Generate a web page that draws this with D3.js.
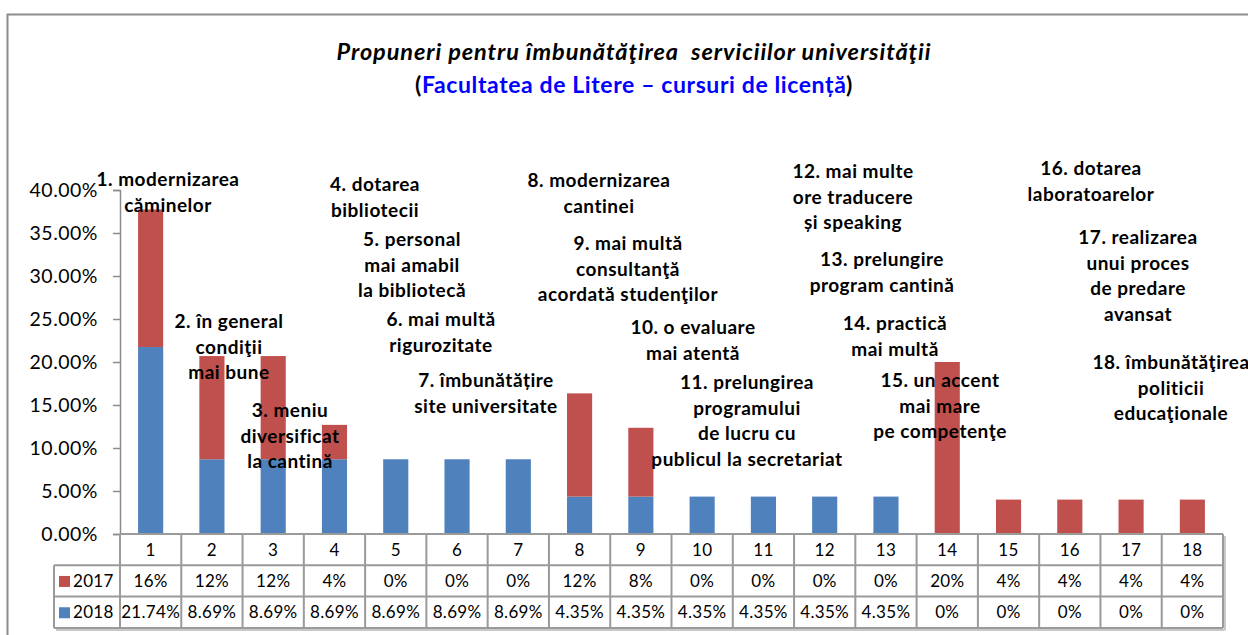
<!DOCTYPE html>
<html>
<head>
<meta charset="utf-8">
<script src="https://cdn.jsdelivr.net/npm/d3@7"></script>
<style>
  body { margin: 0; background: #fff; }
  text { font-family: Lato, "Liberation Sans", sans-serif; }
</style>
</head>
<body>
<div id="chart"></div>
<script>
var widthsvg = 1248;
var heightsvg = 635;

// data
var categories = ["1","2","3","4","5","6","7","8","9","10","11","12","13","14","15","16","17","18"];
var values2017 = [16, 12, 12, 4, 0, 0, 0, 12, 8, 0, 0, 0, 0, 20, 4, 4, 4, 4];
var values2018 = [21.74, 8.69, 8.69, 8.69, 8.69, 8.69, 8.69, 4.35, 4.35, 4.35, 4.35, 4.35, 4.35, 0, 0, 0, 0, 0];
var labels2017 = ["16%","12%","12%","4%","0%","0%","0%","12%","8%","0%","0%","0%","0%","20%","4%","4%","4%","4%"];
var labels2018 = ["21.74%","8.69%","8.69%","8.69%","8.69%","8.69%","8.69%","4.35%","4.35%","4.35%","4.35%","4.35%","4.35%","0%","0%","0%","0%","0%"];
var yTicks = [0, 5, 10, 15, 20, 25, 30, 35, 40];
var seriesNames = ["2017", "2018"];
var notes = [
  ["1. modernizarea", "căminelor"],
  ["2. în general", "condiţii", "mai bune"],
  ["3. meniu", "diversificat", "la cantină"],
  ["4. dotarea", "bibliotecii"],
  ["5. personal", "mai amabil", "la bibliotecă"],
  ["6. mai multă", "rigurozitate"],
  ["7. îmbunătățire", "site universitate"],
  ["8. modernizarea", "cantinei"],
  ["9. mai multă", "consultanţă", "acordată studenţilor"],
  ["10. o evaluare", "mai atentă"],
  ["11. prelungirea", "programului", "de lucru cu", "publicul la secretariat"],
  ["12. mai multe", "ore traducere", "și speaking"],
  ["13. prelungire", "program cantină"],
  ["14. practică", "mai multă"],
  ["15. un accent", "mai mare", "pe competenţe"],
  ["16. dotarea", "laboratoarelor"],
  ["17. realizarea", "unui proces", "de predare", "avansat"],
  ["18. îmbunătăţirea", "politicii", "educaţionale"]
];

// layout of the note blocks (center x, first line middle y)
var notePos = [
  [168, 179], [229, 321], [290, 410], [375, 184], [412, 239], [441, 319],
  [486, 380], [599, 180], [628, 243], [693, 327], [747, 382], [853, 171],
  [882, 259], [895, 323], [940, 380], [1091, 168], [1138, 237], [1171, 362]
];

var colors = {"2017": "#C0504D", "2018": "#4F81BD"};

var plot = {left: 120, right: 1223, top: 190, bottom: 534};
var rowH = 31.3;

var svg = d3.select("#chart")
    .append("svg")
    .attr("width", widthsvg)
    .attr("height", heightsvg);

// chart border
svg.append("rect")
    .attr("x", 7.5).attr("y", 14.5)
    .attr("width", 1260).attr("height", 640)
    .attr("fill", "none")
    .attr("stroke", "#8c8c8c")
    .attr("stroke-width", 2);

// title
svg.append("text")
    .attr("x", 634).attr("y", 60)
    .attr("text-anchor", "middle")
    .attr("xml:space", "preserve")
    .style("font-size", "23.5px")
    .style("letter-spacing", "0.9px")
    .style("font-weight", "bold")
    .style("font-style", "italic")
    .text("Propuneri pentru îmbunătăţirea  serviciilor universităţii");

var sub = svg.append("text")
    .attr("x", 634).attr("y", 93)
    .attr("text-anchor", "middle")
    .style("font-size", "23px")
    .style("letter-spacing", "0.6px")
    .style("font-weight", "bold");
sub.append("tspan").text("(");
sub.append("tspan").attr("fill", "#0000FF").text("Facultatea de Litere – cursuri de licență");
sub.append("tspan").text(")");

var scalex = d3.scaleBand()
    .domain(categories)
    .range([plot.left, plot.right])
    .paddingInner(0.59)
    .paddingOuter(0.295);

var step = scalex.step();

var scaley = d3.scaleLinear()
    .domain([0, 40])
    .range([plot.bottom, plot.top]);

// y axis
var axisleft = d3.axisLeft(scaley)
    .tickValues(yTicks)
    .tickSize(7)
    .tickFormat(d => d.toFixed(2) + "%");

var gy = svg.append("g")
    .attr("transform", `translate(${plot.left}, 0)`)
    .call(axisleft);
gy.select(".domain").attr("stroke", "#8c8c8c").attr("stroke-width", 1.5);
gy.selectAll(".tick line").attr("stroke", "#8c8c8c").attr("stroke-width", 1.5);
gy.selectAll(".tick text")
    .attr("x", -22)
    .attr("fill", "#000")
    .style("font-size", "19.5px")
    .style("letter-spacing", "0.5px")
    .style("font-family", "Lato, sans-serif");

// stacked bars
var table = categories.map(function(c, i) {
    return {cat: c, "2018": values2018[i], "2017": values2017[i]};
});
var stack = d3.stack().keys(["2018", "2017"]);
var layers = stack(table);

svg.append("g").selectAll("g")
    .data(layers)
    .enter()
    .append("g")
    .attr("fill", d => colors[d.key])
    .selectAll("rect")
    .data(d => d)
    .enter()
    .append("rect")
    .attr("x", d => scalex(d.data.cat))
    .attr("width", scalex.bandwidth())
    .attr("y", d => scaley(d[1]))
    .attr("height", d => scaley(d[0]) - scaley(d[1]));

// data table
var grid = svg.append("g");
var gridColor = "#9a9a9a";
var tableLeft = 54;
var rows = [plot.bottom, plot.bottom + rowH, plot.bottom + 2 * rowH, plot.bottom + 3 * rowH];

// shadow lines
grid.append("line")
    .attr("x1", plot.right + 2).attr("x2", plot.right + 2)
    .attr("y1", plot.bottom + 2).attr("y2", rows[3] + 2)
    .attr("stroke", "#c8c8c8").attr("stroke-width", 2);
grid.append("line")
    .attr("x1", tableLeft + 2).attr("x2", plot.right + 2)
    .attr("y1", rows[3] + 2).attr("y2", rows[3] + 2)
    .attr("stroke", "#c8c8c8").attr("stroke-width", 2);

// horizontal lines
grid.append("line")
    .attr("x1", plot.left).attr("x2", plot.right)
    .attr("y1", rows[0]).attr("y2", rows[0])
    .attr("stroke", gridColor).attr("stroke-width", 2);
[rows[1], rows[2], rows[3]].forEach(function(y) {
    grid.append("line")
        .attr("x1", tableLeft).attr("x2", plot.right)
        .attr("y1", y).attr("y2", y)
        .attr("stroke", gridColor).attr("stroke-width", 2);
});
// vertical lines
grid.append("line")
    .attr("x1", tableLeft).attr("x2", tableLeft)
    .attr("y1", rows[1]).attr("y2", rows[3])
    .attr("stroke", gridColor).attr("stroke-width", 2);
d3.range(categories.length + 1).forEach(function(i) {
    var x = plot.left + i * step;
    grid.append("line")
        .attr("x1", x).attr("x2", x)
        .attr("y1", rows[0]).attr("y2", rows[3])
        .attr("stroke", gridColor).attr("stroke-width", 2);
});

var cellFont = "17px";
var cx = d => scalex(d) + scalex.bandwidth() / 2;

grid.selectAll(".cat")
    .data(categories)
    .enter()
    .append("text")
    .attr("x", d => cx(d))
    .attr("y", rows[0] + rowH / 2 + 6)
    .attr("text-anchor", "middle")
    .style("font-size", cellFont)
    .style("letter-spacing", "0.3px")
    .text(d => d);

[labels2017, labels2018].forEach(function(lbls, r) {
    grid.selectAll(".v" + r)
        .data(lbls)
        .enter()
        .append("text")
        .attr("x", (d, i) => cx(categories[i]))
        .attr("y", rows[r + 1] + rowH / 2 + 6)
        .attr("text-anchor", "middle")
        .style("font-size", cellFont)
        .style("letter-spacing", "0.3px")
        .text(d => d);

    grid.append("rect")
        .attr("x", 59).attr("y", rows[r + 1] + rowH / 2 - 5)
        .attr("width", 11).attr("height", 11)
        .attr("fill", colors[seriesNames[r]]);
    grid.append("text")
        .attr("x", 73).attr("y", rows[r + 1] + rowH / 2 + 6)
        .style("font-size", cellFont)
        .style("letter-spacing", "0.3px")
        .text(seriesNames[r]);
});

// note blocks
var noteG = svg.append("g");
notes.forEach(function(lines, i) {
    var t = noteG.append("text")
        .attr("text-anchor", "middle")
        .style("font-size", "19px")
        .style("letter-spacing", "0.5px")
        .style("font-weight", "bold");
    lines.forEach(function(line, j) {
        t.append("tspan")
            .attr("x", notePos[i][0])
            .attr("y", notePos[i][1] + 7 + j * 25.7)
            .text(line);
    });
});
</script>
</body>
</html>
